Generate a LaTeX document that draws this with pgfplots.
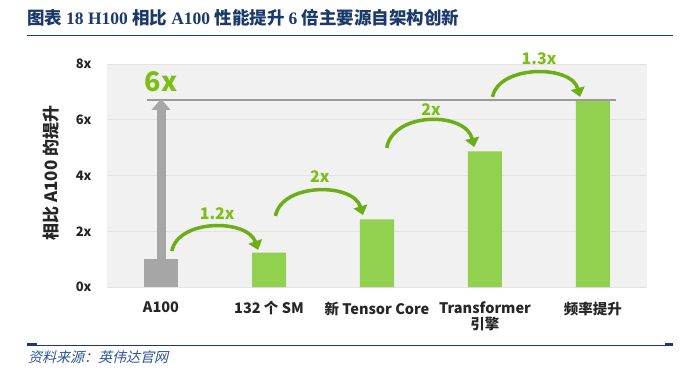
\documentclass[border=0pt]{standalone}
\usepackage{fontspec}
\usepackage{pgfplots}
\pgfplotsset{compat=1.18}
\usetikzlibrary{arrows.meta}
\setmainfont{Noto Sans CJK SC}
\newfontfamily\cjk{Noto Sans CJK SC}
\newfontfamily\titlelat{Liberation Serif}
\newfontfamily\srcfont[FakeSlant=0.25]{Noto Sans CJK SC}
\definecolor{nvgreen}{HTML}{92D050}
\definecolor{txtgreen}{HTML}{7BBF14}
\definecolor{arrgreen}{HTML}{6CAE16}
\definecolor{bargray}{HTML}{A6A6A6}
\definecolor{linegray}{HTML}{9A9A9A}
\definecolor{bgc}{HTML}{F1F1F1}
\definecolor{gridc}{HTML}{E2E2E2}
\definecolor{navy}{HTML}{1B3A6B}
\definecolor{srcblue}{HTML}{2E5597}
\begin{document}
\begin{tikzpicture}[x=1pt,y=1pt]
\useasboundingbox (0,0) rectangle (691,373);
\fill[white] (0,0) rectangle (691,373);
% title
\node[anchor=base west, inner sep=0pt, text=navy, font=\fontsize{17.5}{20}\selectfont\bfseries] at (27,348)
 {\cjk 图表 \titlelat\bfseries 18 H100 \cjk\bfseries 相比 \titlelat\bfseries A100 \cjk\bfseries 性能提升 \titlelat\bfseries 6 \cjk\bfseries 倍主要源自架构创新};
\draw[navy, line width=1.6pt] (27,337.5) -- (673,337.5);
% bottom
\draw[navy, line width=1pt] (27,28) -- (673,28);
\draw[navy, line width=2.5pt] (27,28.5) -- (37,28.5);
\draw[navy, line width=2.5pt] (665,28.5) -- (673,28.5);
\node[anchor=west, inner sep=0pt, text=srcblue, font=\fontsize{14}{16}\srcfont] at (28,16) {资料来源：英伟达官网};
% y label
\node[rotate=90, font=\fontsize{17}{19}\selectfont\bfseries, text=black!85] at (51,200) {相比 A100 的提升};
\begin{axis}[
  at={(107pt,86pt)}, anchor=south west,
  width=540pt, height=223pt, scale only axis,
  xmin=-0.5, xmax=4.5, ymin=0, ymax=8,
  axis background/.style={fill=bgc},
  axis line style={draw=none},
  ytick={0,2,4,6,8},
  yticklabels={0x,2x,4x,6x,8x},
  xtick={0,1,2,3,4},
  xticklabels={A100,132 个 SM,新 Tensor Core,Transformer\\[-1pt]引擎,频率提升},
  major tick length=0pt,
  ymajorgrids, grid style={gridc, line width=0.8pt},
  yticklabel style={font=\fontsize{13}{14}\selectfont\bfseries, text=black!85, xshift=-12pt},
  xticklabel style={font=\fontsize{14.5}{17}\selectfont\bfseries, text=black!85, align=center, yshift=-11pt},
  ybar, bar width=34pt, bar shift=0pt,
  clip=false,
]
\addplot[fill=bargray, draw=none] coordinates {(0,1)};
\addplot[fill=nvgreen, draw=none] coordinates {(1,1.23) (2,2.43) (3,4.87) (4,6.7)};
\addplot[sharp plot, linegray, line width=2pt, forget plot] coordinates {(-0.13,6.7) (4.21,6.7)};
\draw[bargray, line width=9pt, -{Triangle[length=11pt,width=18pt]}] (axis cs:0,1) -- (axis cs:0,6.75);
\node[text=txtgreen, font=\fontsize{27}{30}\selectfont\bfseries] at (axis cs:0,7.35) {6x};
% curved arrows
\draw[arrgreen, line width=3.5pt, -{Triangle[length=9pt,width=14pt]}] (axis cs:0.10,1.29) .. controls (axis cs:0.16,2.45) and (axis cs:0.80,2.45) .. (axis cs:0.90,1.33);
\draw[arrgreen, line width=3.5pt, -{Triangle[length=9pt,width=14pt]}] (axis cs:1.06,2.55) .. controls (axis cs:1.12,3.75) and (axis cs:1.78,3.75) .. (axis cs:1.87,2.58);
\draw[arrgreen, line width=3.5pt, -{Triangle[length=9pt,width=14pt]}] (axis cs:2.09,4.99) .. controls (axis cs:2.15,6.3) and (axis cs:2.82,6.3) .. (axis cs:2.90,5.02);
\draw[arrgreen, line width=3.5pt, -{Triangle[length=9pt,width=14pt]}] (axis cs:3.07,6.82) .. controls (axis cs:3.13,7.98) and (axis cs:3.80,7.98) .. (axis cs:3.88,6.82);
\node[text=txtgreen, font=\fontsize{16}{18}\selectfont\bfseries] at (axis cs:0.52,2.62) {1.2x};
\node[text=txtgreen, font=\fontsize{16}{18}\selectfont\bfseries] at (axis cs:1.47,3.95) {2x};
\node[text=txtgreen, font=\fontsize{16}{18}\selectfont\bfseries] at (axis cs:2.50,6.35) {2x};
\node[text=txtgreen, font=\fontsize{16}{18}\selectfont\bfseries] at (axis cs:3.50,8.18) {1.3x};
\end{axis}
\end{tikzpicture}
\end{document}
